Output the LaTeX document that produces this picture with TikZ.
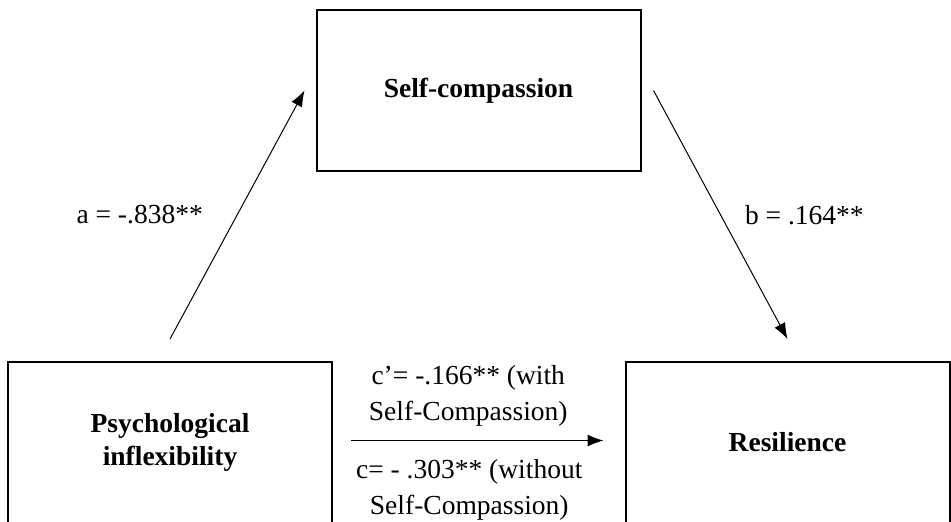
\documentclass[tikz,border=0pt]{standalone}
\usepackage{fontspec}
\setmainfont{Liberation Serif}
\usetikzlibrary{arrows.meta}

\tikzset{
	varbox/.style = {draw, line width = 1pt, minimum width = 162pt, minimum height = 80.5pt, align = center, font = \bfseries\fontsize{13.75}{16.5}\selectfont},
	coefficient/.style = {inner sep = 0pt, align = center, font = \fontsize{13.75}{18}\selectfont},
	path arrow/.style = {->, line width = 0.5pt}
}

\begin{document}
\begin{tikzpicture}[> = {Latex[length = 8pt, width = 6pt]}, x = 0.5pt, y = -0.5pt]

	\useasboundingbox (0, 0) rectangle (951, 521);

	% Variables
	
	\node [varbox] (compassion) at (478.5, 90.5) {Self-compassion};
	\node [varbox] (inflexibility) at (170, 442.5) {Psychological\\inflexibility};
	\node [varbox] (resilience) at (787.5, 442.5) {Resilience};
	
	% Indirect paths a and b
	
	\draw [path arrow] ([yshift = 11pt] inflexibility.north) -- node [coefficient, left = 17pt] {a = -.838**} ([xshift = -5.5pt] compassion.west);
	\draw [path arrow] ([xshift = 6pt] compassion.east) -- node [coefficient, right = 12pt] {b = .164**} ([yshift = 11pt] resilience.north);
	
	% Direct path c
	
	\draw [path arrow] ([shift = {(9pt, 1pt)}] inflexibility.east) -- node [coefficient, above = 7pt, xshift = -4.5pt] {c’= -.166** (with\\Self-Compassion)} node [coefficient, below = 9pt, xshift = -4pt] {c= - .303** (without\\Self-Compassion)} ([shift = {(-10.5pt, 1pt)}] resilience.west);

\end{tikzpicture}
\end{document}
